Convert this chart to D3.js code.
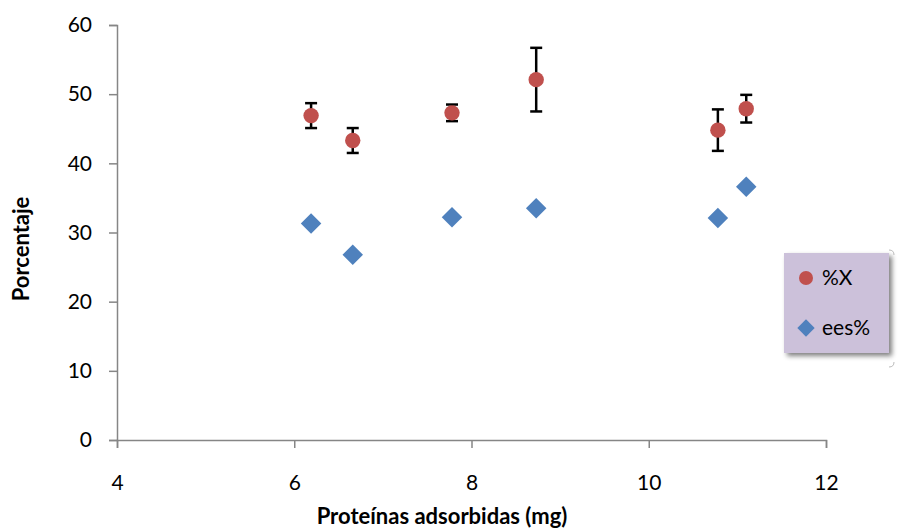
<!DOCTYPE html>
<html><head><meta charset="utf-8">
<script src="https://cdn.jsdelivr.net/npm/d3@7"></script>
<style>body{margin:0;background:#fff}svg{display:block}text{font-family:Lato,"Open Sans",sans-serif}</style>
</head><body><svg id="c" width="899" height="531"></svg>
<script>
const xVals = [6.19, 6.66, 7.78, 8.73, 10.78, 11.10];
const pctX = [46.9, 43.3, 47.3, 52.1, 44.8, 47.9];
const pctXErr = [1.8, 1.8, 1.2, 4.6, 3.0, 2.0];
const ees = [31.3, 26.8, 32.2, 33.5, 32.1, 36.6];
const xTicks = [4, 6, 8, 10, 12];
const yTicks = [0, 10, 20, 30, 40, 50, 60];
const seriesNames = ["%X", "ees%"];

const svg = d3.select("#c");
const x = d3.scaleLinear().domain([4, 12]).range([117, 826]);
const y = d3.scaleLinear().domain([0, 60]).range([440, 25]);
const axisColor = "#868686";
const font = "Lato,'Open Sans',sans-serif";

const gx = svg.append("g").attr("transform", "translate(0,440)")
  .call(d3.axisBottom(x).tickValues(xTicks).tickSize(8).tickPadding(27).tickFormat(d3.format("d")));
const gy = svg.append("g").attr("transform", "translate(117,0)")
  .call(d3.axisLeft(y).tickValues(yTicks).tickSize(8).tickPadding(17).tickFormat(d3.format("d")));
[gx, gy].forEach(g => {
  g.select(".domain").attr("stroke", axisColor).attr("stroke-width", 1.5);
  g.selectAll(".tick line").attr("stroke", axisColor).attr("stroke-width", 1.5);
  g.selectAll(".tick text").attr("fill", "#000").style("font-size", "21px").style("font-family", font);
});

svg.append("text").attr("x", 442).attr("y", 524).attr("text-anchor", "middle")
  .style("font-size", "22px").style("font-weight", "bold").style("font-family", font).text("Proteínas adsorbidas (mg)");
svg.append("text").attr("transform", "translate(29,249) rotate(-90)").attr("text-anchor", "middle")
  .style("font-size", "22px").style("font-weight", "bold").style("font-family", font).text("Porcentaje");

// diamonds
const diamond = d3.symbol().type(d3.symbolSquare).size(210);
svg.append("g").selectAll("path").data(xVals).join("path")
  .attr("d", diamond)
  .attr("transform", (d, i) => `translate(${x(d)},${y(ees[i])}) rotate(45)`)
  .attr("fill", "#4f81bd");

// error bars
const eb = svg.append("g").attr("stroke", "#000").attr("stroke-width", 2.5);
xVals.forEach((d, i) => {
  const cx = x(d), top = y(pctX[i] + pctXErr[i]), bot = y(pctX[i] - pctXErr[i]);
  eb.append("line").attr("x1", cx).attr("x2", cx).attr("y1", top).attr("y2", bot);
  eb.append("line").attr("x1", cx - 6).attr("x2", cx + 6).attr("y1", top).attr("y2", top);
  eb.append("line").attr("x1", cx - 6).attr("x2", cx + 6).attr("y1", bot).attr("y2", bot);
});

svg.append("g").selectAll("circle").data(xVals).join("circle")
  .attr("cx", d => x(d)).attr("cy", (d, i) => y(pctX[i])).attr("r", 7.7)
  .attr("fill", "#c0504d");

// legend
const defs = svg.append("defs");
const f = defs.append("filter").attr("id", "sh").attr("x", "-20%").attr("y", "-20%").attr("width", "150%").attr("height", "150%");
f.append("feGaussianBlur").attr("in", "SourceAlpha").attr("stdDeviation", 2.5);
f.append("feOffset").attr("dx", 3).attr("dy", 3).attr("result", "b");
f.append("feComponentTransfer").append("feFuncA").attr("type", "linear").attr("slope", 0.5);
const fm = f.append("feMerge"); fm.append("feMergeNode"); fm.append("feMergeNode").attr("in", "SourceGraphic");

const lg = svg.append("g");
lg.append("rect").attr("x", 784).attr("y", 253).attr("width", 105).attr("height", 100)
  .attr("fill", "#ccc1da").attr("filter", "url(#sh)");
lg.append("circle").attr("cx", 806).attr("cy", 278).attr("r", 7).attr("fill", "#c0504d");
lg.append("path").attr("d", d3.symbol().type(d3.symbolSquare).size(150))
  .attr("transform", "translate(806,328) rotate(45)").attr("fill", "#4f81bd");
lg.selectAll("text").data(seriesNames).join("text")
  .attr("x", 822).attr("y", (d, i) => 285 + i * 50).style("font-size", "21px").style("font-family", font).text(d => d);
// faint corner marks
svg.append("path").attr("d", "M889,250 Q894,250 894,255").attr("fill", "none").attr("stroke", "#bbb");
svg.append("path").attr("d", "M894,362 Q894,367 889,367").attr("fill", "none").attr("stroke", "#bbb");
</script></body></html>
